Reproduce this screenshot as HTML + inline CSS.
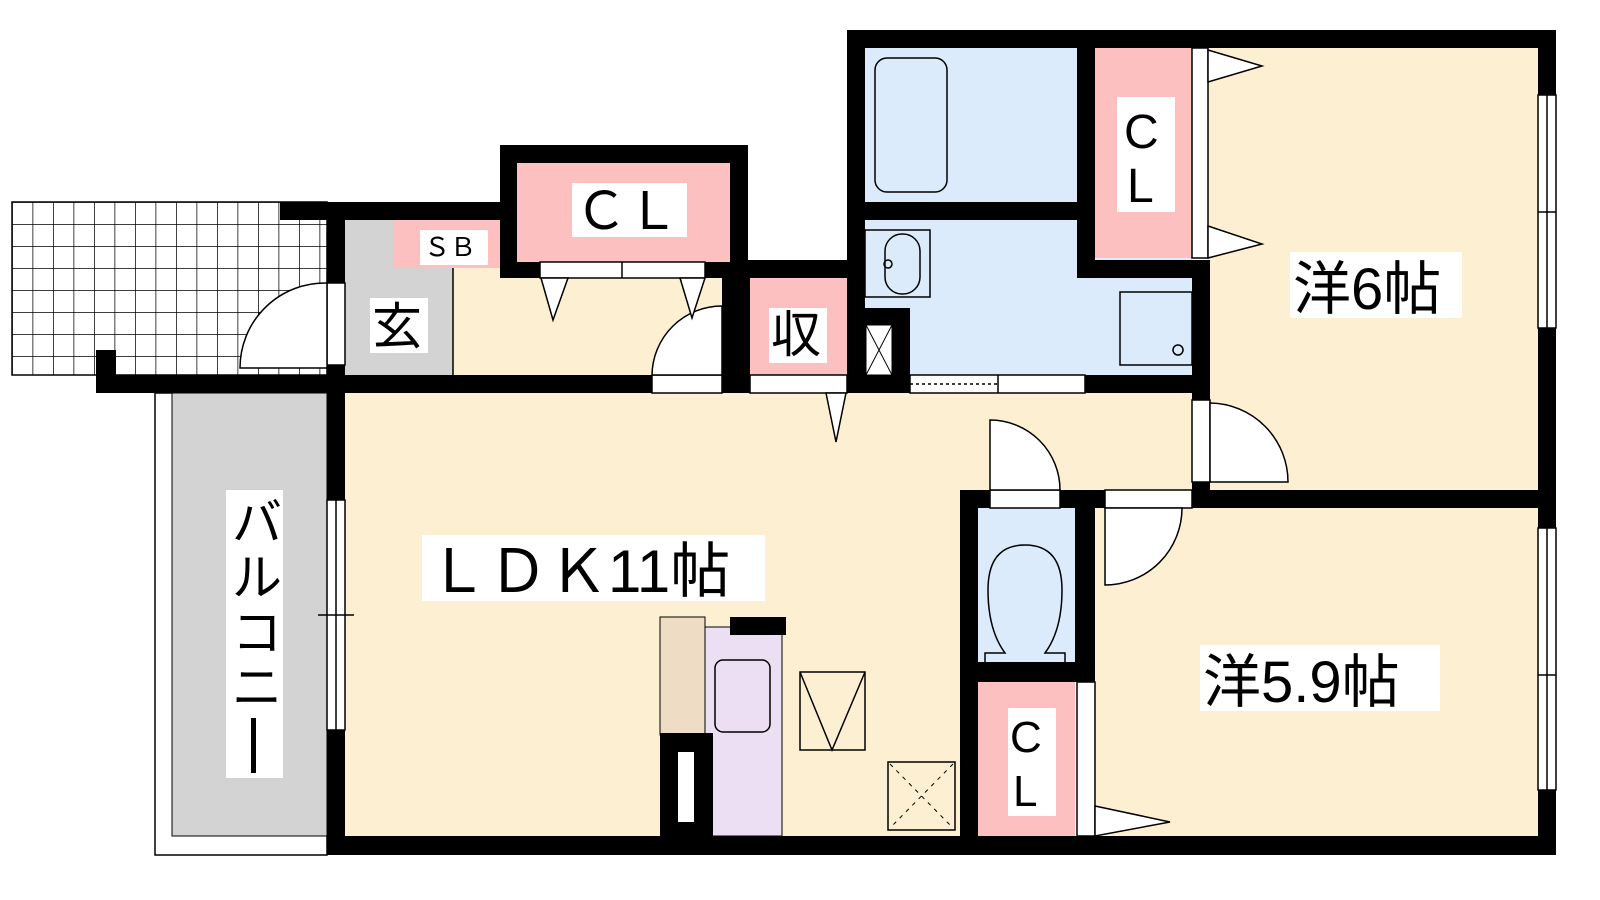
<!DOCTYPE html>
<html><head><meta charset="utf-8"><style>
html,body{margin:0;padding:0;width:1600px;height:900px;overflow:hidden;background:#fff}
svg{display:block}
text{font-family:"Liberation Sans","Noto Sans CJK JP",sans-serif;fill:#000}
</style></head><body>
<svg width="1600" height="900" viewBox="0 0 1600 900" xmlns="http://www.w3.org/2000/svg">
<defs>
<pattern id="g" x="12" y="202" width="20.5" height="22" patternUnits="userSpaceOnUse">
<rect width="20.5" height="22" fill="#fff"/>
<path d="M0 0H20.5M0 0V22" stroke="#000" stroke-width="1.5"/>
</pattern>
</defs>
<rect x="12" y="202" width="315" height="173" fill="url(#g)" stroke="#000" stroke-width="1.5"/>
<rect x="155" y="393" width="172" height="462" fill="#fff" stroke="#000" stroke-width="1.5"/>
<rect x="172" y="393" width="155" height="443" fill="#d3d3d3" stroke="#000" stroke-width="1"/>
<g>
<rect x="345" y="393" width="615" height="443" fill="#fdf0d2"/>
<rect x="345" y="393" width="850" height="97" fill="#fdf0d2"/>
<rect x="1208" y="48" width="330" height="442" fill="#fdf0d2"/>
<rect x="1095" y="508" width="443" height="328" fill="#fdf0d2"/>
<rect x="453" y="262" width="277" height="113" fill="#fdf0d2"/>
<rect x="865" y="48" width="212" height="154" fill="#dcebfc"/>
<rect x="865" y="220" width="327" height="155" fill="#dcebfc"/>
<rect x="1095" y="48" width="97" height="210" fill="#fcc0c0"/>
<rect x="517" y="163" width="213" height="99" fill="#fcc0c0"/>
<rect x="750" y="278" width="97" height="97" fill="#fcc0c0"/>
<rect x="345" y="220" width="108" height="155" fill="#d3d3d3"/>
<rect x="393" y="220" width="107" height="48" fill="#fcc0c0"/>
<rect x="978" y="508" width="97" height="154" fill="#dcebfc"/>
<rect x="978" y="682" width="97" height="154" fill="#fcc0c0"/>
</g>
<line x1="453" y1="268" x2="453" y2="375" stroke="#000" stroke-width="1.5"/>
<g fill="#000">
<rect x="847" y="30" width="709" height="18"/>
<rect x="1538" y="30" width="18" height="65"/>
<rect x="1538" y="328" width="18" height="200"/>
<rect x="1538" y="790" width="18" height="65"/>
<rect x="327" y="836" width="1229" height="19"/>
<rect x="327" y="393" width="18" height="107"/>
<rect x="327" y="730" width="18" height="125"/>
<rect x="96" y="375" width="556" height="18"/>
<rect x="96" y="350" width="20" height="43"/>
<rect x="722" y="262" width="28" height="131"/>
<rect x="847" y="375" width="63" height="18"/>
<rect x="1085" y="375" width="107" height="18"/>
<rect x="847" y="30" width="18" height="363"/>
<rect x="865" y="202" width="230" height="18"/>
<rect x="1077" y="48" width="18" height="230"/>
<rect x="1077" y="260" width="131" height="18"/>
<rect x="1192" y="260" width="18" height="140"/>
<rect x="1192" y="482" width="18" height="26"/>
<rect x="1192" y="490" width="364" height="18"/>
<rect x="960" y="490" width="30" height="18"/>
<rect x="1060" y="490" width="45" height="18"/>
<rect x="960" y="490" width="18" height="365"/>
<rect x="1075" y="490" width="20" height="192"/>
<rect x="960" y="662" width="135" height="20"/>
<rect x="730" y="260" width="117" height="18"/>
<rect x="500" y="145" width="248" height="18"/>
<rect x="500" y="145" width="17" height="133"/>
<rect x="730" y="145" width="18" height="133"/>
<rect x="500" y="262" width="40" height="16"/>
<rect x="705" y="262" width="43" height="16"/>
<rect x="280" y="202" width="220" height="18"/>
<rect x="327" y="202" width="18" height="81"/>
<rect x="327" y="365" width="18" height="28"/>
<rect x="864" y="308" width="46" height="85"/>
</g>
<rect x="866" y="325" width="26" height="50" fill="#fff" stroke="#000"/>
<path d="M866 325L892 375M892 325L866 375" stroke="#000"/>
<g fill="#fff" stroke="#000" stroke-width="1.5">
<rect x="1538" y="95" width="18" height="233"/>
<rect x="1538" y="528" width="18" height="262"/>
<rect x="327" y="500" width="18" height="230"/>
<rect x="540" y="262" width="165" height="16"/>
<rect x="910" y="375" width="175" height="18"/>
<rect x="652" y="375" width="70" height="18"/>
<rect x="750" y="375" width="97" height="18"/>
<rect x="990" y="490" width="70" height="18"/>
<rect x="1105" y="490" width="87" height="18"/>
<rect x="1192" y="400" width="18" height="82"/>
<rect x="1192" y="48" width="16" height="210"/>
<rect x="1077" y="682" width="18" height="154"/>
<rect x="327" y="283" width="18" height="82"/>
</g>
<g stroke="#000" stroke-width="1.5" fill="none">
<line x1="1547" y1="95" x2="1547" y2="328"/><line x1="1538" y1="212" x2="1556" y2="212"/>
<line x1="1547" y1="528" x2="1547" y2="790"/><line x1="1538" y1="675" x2="1556" y2="675"/>
<line x1="336" y1="500" x2="336" y2="730"/><line x1="318" y1="615" x2="354" y2="615"/>
<line x1="622" y1="262" x2="622" y2="278"/>
<line x1="998" y1="375" x2="998" y2="393"/>
<line x1="910" y1="384" x2="998" y2="384" stroke-dasharray="3 3"/>
</g>
<g fill="#fff" stroke="#000" stroke-width="1.5">
<path d="M327 283V368H240A85 85 0 0 1 327 283Z"/>
<path d="M722 306V375H652A70 70 0 0 1 722 306Z"/>
<path d="M990 420V490H1060A70 70 0 0 0 990 420Z"/>
<path d="M1210 403V482H1288A79 79 0 0 0 1210 403Z"/>
<path d="M1105 508V585A77 77 0 0 0 1182 508Z"/>
<path d="M1208 50L1262 66L1208 82Z"/>
<path d="M1208 226L1262 244L1208 258Z"/>
<path d="M1095 806L1170 822L1095 836Z"/>
<path d="M541 278L553 320L568 278Z"/>
<path d="M680 278L692 318L705 278Z"/>
<path d="M826 393L836 442L846 393Z"/>
</g>
<g stroke="#000" stroke-width="1.5" fill="none">
<rect x="875" y="58" width="72" height="134" rx="12"/>
<rect x="865" y="230" width="65" height="67"/>
<rect x="885" y="234" width="35" height="60" rx="17"/>
<circle cx="888" cy="264" r="4"/>
<rect x="1120" y="292" width="72" height="73"/>
<circle cx="1178" cy="350" r="5"/>
<path d="M985 662V653H1005Q988 630 988 590Q988 545 1025 545Q1062 545 1062 590Q1062 630 1045 653H1065V662"/>
</g>
<rect x="660" y="617" width="45" height="118" fill="#eedcc4" stroke="#000"/>
<rect x="705" y="627" width="77" height="209" fill="#ecdff3" stroke="#000"/>
<rect x="730" y="617" width="56" height="18" fill="#000"/>
<rect x="715" y="660" width="55" height="72" rx="8" fill="none" stroke="#000" stroke-width="1.5"/>
<rect x="660" y="733" width="53" height="103" fill="#000"/>
<rect x="678" y="752" width="16" height="70" fill="#fff"/>
<rect x="800" y="672" width="65" height="78" fill="none" stroke="#000" stroke-width="1.5"/>
<path d="M800 672L832 750L865 672" fill="none" stroke="#000" stroke-width="1.5"/>
<rect x="888" y="762" width="67" height="68" fill="none" stroke="#000" stroke-width="1.5"/>
<path d="M890 764L953 828M953 764L890 828" stroke="#000" stroke-dasharray="4 5"/>
<g fill="#fff">
<rect x="1290" y="252" width="172" height="66"/>
<rect x="422" y="535" width="343" height="66"/>
<rect x="1200" y="645" width="240" height="66"/>
<rect x="226" y="490" width="57" height="288"/>
<rect x="572" y="183" width="115" height="54"/>
<rect x="1117" y="97" width="58" height="115"/>
<rect x="1008" y="708" width="48" height="108"/>
<rect x="370" y="298" width="58" height="55"/>
<rect x="769" y="308" width="58" height="55"/>
<rect x="420" y="230" width="68" height="35"/>
</g>
<text x="1293" y="309" font-size="58">洋6帖</text>
<text x="428" y="592" font-size="60">ＬＤＫ11帖</text>
<text x="1203" y="702" font-size="58">洋5.9帖</text>
<text x="575" y="229" font-size="52">ＣＬ</text>
<text x="1124" y="148" font-size="48">C</text>
<text x="1127" y="202" font-size="48">L</text>
<text x="1010" y="752" font-size="44">C</text>
<text x="1013" y="806" font-size="44">L</text>
<text x="372" y="344" font-size="50">玄</text>
<text x="771" y="352" font-size="50">収</text>
<text x="424" y="256" font-size="26">ＳＢ</text>
<text x="232" y="540" font-size="50">バ</text>
<text x="232" y="595" font-size="50">ル</text>
<text x="232" y="650" font-size="50">コ</text>
<text x="232" y="705" font-size="50">ニ</text>
<text x="253" y="718" font-size="50" style="display:none">ー</text>
<rect x="251" y="718" width="5" height="55" fill="#000"/>
</svg>
</body></html>
